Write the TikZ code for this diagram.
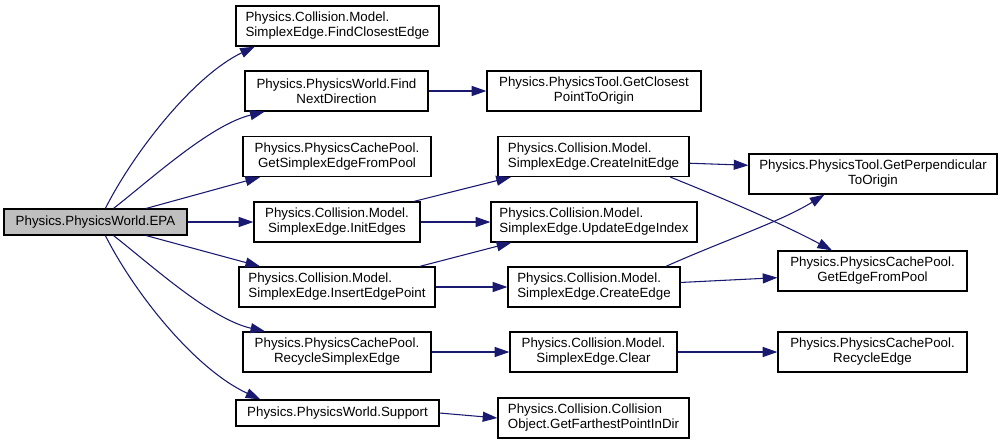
\documentclass[tikz,border=0pt]{standalone}
\usepackage{fontspec}
\setmainfont{Liberation Sans}
\usepackage{xcolor}
\usepackage{tikz}
\usetikzlibrary{arrows.meta}

\definecolor{calledge}{HTML}{191970}
\definecolor{rootfill}{HTML}{BFBFBF}

\begin{document}
\begin{tikzpicture}[
    x=0.75pt, y=-0.75pt,
    >={Triangle[length=11pt, width=7.5pt]},
    every node/.style={font=\fontsize{10}{11.25}\selectfont},
    fn/.style={draw, line width=0.9pt, fill=white, inner sep=0pt, align=center,
        minimum height=30pt, minimum width=#1*0.75pt},
    fnl/.style={fn=#1, align=left},
    oneline/.style={minimum height=19.5pt},
    call/.style={->, calledge, line width=0.8pt}
]
\useasboundingbox (0,0) rectangle (1003,444);

% Root
\node[fn=183, oneline, fill=rootfill] (epa) at (95.5,222) {Physics.PhysicsWorld.EPA};

% First level
\node[fnl=203] (fce) at (337.5,26) {Physics.Collision.Model.\\SimplexEdge.FindClosestEdge};
\node[fn=183] (fnd) at (336.5,91) {Physics.PhysicsWorld.Find\\NextDirection};
\node[fn=188] (gse) at (337,156.5) {Physics.PhysicsCachePool.\\GetSimplexEdgeFromPool};
\node[fn=166] (ie) at (337,222) {Physics.Collision.Model.\\SimplexEdge.InitEdges};
\node[fnl=196] (iep) at (337,287) {Physics.Collision.Model.\\SimplexEdge.InsertEdgePoint};
\node[fn=188] (rse) at (337,352) {Physics.PhysicsCachePool.\\RecycleSimplexEdge};
\node[fn=203, oneline] (sup) at (337.5,413) {Physics.PhysicsWorld.Support};

% Second level
\node[fn=214] (gcp) at (594,91) {Physics.PhysicsTool.GetClosest\\PointToOrigin};
\node[fnl=191] (cie) at (593.5,156.5) {Physics.Collision.Model.\\SimplexEdge.CreateInitEdge};
\node[fnl=206] (uei) at (594,222) {Physics.Collision.Model.\\SimplexEdge.UpdateEdgeIndex};
\node[fnl=172] (ce) at (594,287) {Physics.Collision.Model.\\SimplexEdge.CreateEdge};
\node[fn=167] (cl) at (593.5,352) {Physics.Collision.Model.\\SimplexEdge.Clear};
\node[fnl=191] (gfp) at (593.5,418) {Physics.Collision.Collision\\Object.GetFarthestPointInDir};

% Third level
\node[fn=248] (gpo) at (873,174) {Physics.PhysicsTool.GetPerpendicular\\ToOrigin};
\node[fn=189] (gep) at (872.5,271) {Physics.PhysicsCachePool.\\GetEdgeFromPool};
\node[fn=189] (re) at (872.5,352) {Physics.PhysicsCachePool.\\RecycleEdge};

% Calls from EPA
\draw[call] (epa.54) .. controls (135,150) and (195,75) .. (fce.194);
\draw[call] (epa.37) .. controls (150,180) and (210,125) .. (fnd.196);
\draw[call] (epa.15) -- (gse.195);
\draw[call] (epa.east) -- (ie.west);
\draw[call] (epa.-15) -- (iep.165);
\draw[call] (epa.-37) .. controls (150,264) and (210,319) .. (rse.164.5);
\draw[call] (epa.-54) .. controls (135,294) and (195,369) .. (sup.170);

% Second level calls
\draw[call] (fnd) -- (gcp);
\draw[call] (ie.15) -- (cie.194);
\draw[call] (ie) -- (uei);
\draw[call] (iep.14) -- (uei.194);
\draw[call] (iep) -- (ce);
\draw[call] (rse) -- (cl);
\draw[call] (sup.east) -- (gfp.west);

% Third level calls
\draw[call] (cie.-4) -- (gpo.176);
\draw[call] (cie.-15) .. controls (740,205) and (790,228) .. (gep.153);
\draw[call] (ce.16) .. controls (725,240) and (780,222) .. (gpo.203.5);
\draw[call] (ce.3) -- (gep.184);
\draw[call] (cl) -- (re);

\end{tikzpicture}
\end{document}
